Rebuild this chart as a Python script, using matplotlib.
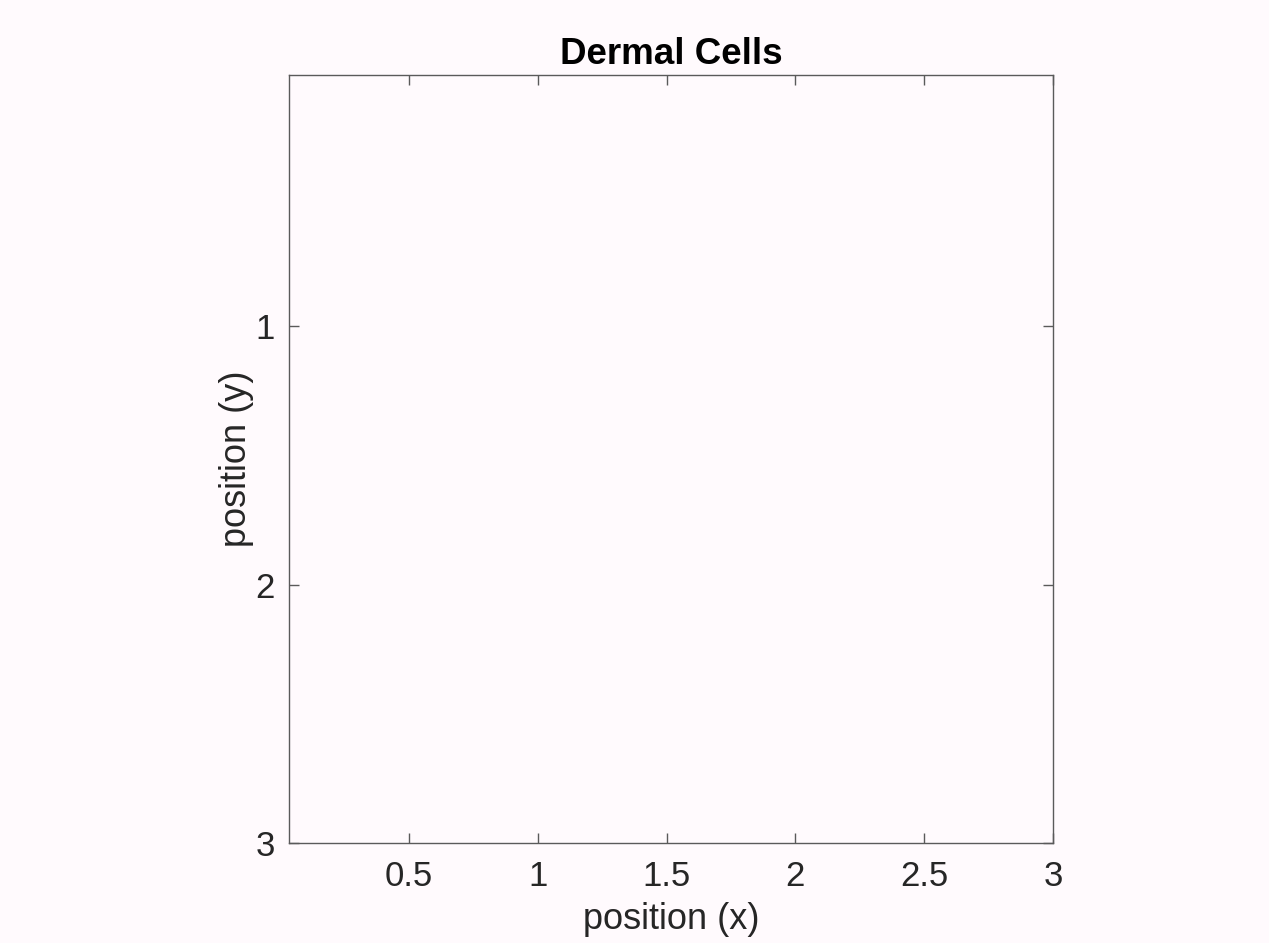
import matplotlib.pyplot as plt

# Dataset (the chart shows an empty field)
title = 'Dermal Cells'
x_ticks = [0.5, 1, 1.5, 2, 2.5, 3]
x_tick_labels = ['0.5', '1', '1.5', '2', '2.5', '3']
y_ticks = [1, 2, 3]
y_tick_labels = ['1', '2', '3']
x_limits = [0.034, 3]
y_limits = [0.029, 3]

plt.rcParams['font.family'] = ['Liberation Sans', 'DejaVu Sans']

bg = '#fffafd'
axis_col = '#5a5a5a'

fig = plt.figure(figsize=(12.69, 9.43), dpi=100, facecolor=bg)
ax = fig.add_axes([0.2277, 0.1060, 0.6021, 0.8145], facecolor=bg)

ax.set_xlim(x_limits)
ax.set_ylim(y_limits[1], y_limits[0])  # y axis points down

ax.set_xticks(x_ticks)
ax.set_xticklabels(x_tick_labels)
ax.set_yticks(y_ticks)
ax.set_yticklabels(y_tick_labels)

ax.tick_params(direction='in', length=7, width=1, color=axis_col,
               top=True, right=True, labelsize=25, labelcolor='#262626')
ax.tick_params(axis='x', pad=12)
ax.tick_params(axis='y', pad=10)

for spine in ax.spines.values():
    spine.set_color(axis_col)
    spine.set_linewidth(1)

ax.set_xlabel('position (x)', fontsize=26, color='#262626', labelpad=7)
ax.set_ylabel('position (y)', fontsize=26, color='#262626', labelpad=1)
ax.set_title(title, fontsize=26.5, fontweight='bold', color='black', pad=8)

plt.savefig('out.png', dpi=100, facecolor=bg)
